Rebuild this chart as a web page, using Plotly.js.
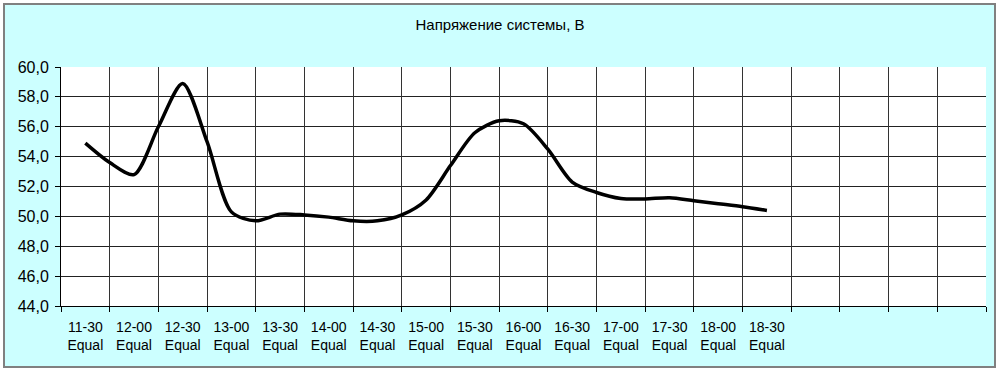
<!DOCTYPE html>
<html>
<head>
<meta charset="utf-8">
<script src="https://cdn.plot.ly/plotly-3.0.1.min.js"></script>
<style>
  html, body { margin: 0; padding: 0; background: #ffffff; width: 1000px; height: 372px; overflow: hidden; }
  #frame { position: absolute; left: 3px; top: 3px; width: 993px; height: 365px; box-sizing: border-box;
           border: 2px solid #808080; background: #ccffff; }
  #chart { position: absolute; left: 0; top: 0; width: 989px; height: 361px; }
</style>
</head>
<body>
<div id="frame"><div id="chart"></div></div>
<script>
// Time in hours (sampled every 15 min along the drawn curve)
const sampleTimes = [11.5, 11.75, 12.0, 12.25, 12.5, 12.75, 13.0, 13.25, 13.5, 13.75,
                     14.0, 14.25, 14.5, 14.75, 15.0, 15.25, 15.5, 15.75, 16.0, 16.25,
                     16.5, 16.75, 17.0, 17.25, 17.5, 17.75, 18.0, 18.25, 18.5];
// System voltage, V
const voltage = [54.9, 53.6, 52.8, 56.0, 58.9, 55.0, 50.3, 49.7, 50.15, 50.1,
                 49.95, 49.7, 49.7, 50.1, 51.1, 53.4, 55.6, 56.4, 56.2, 54.5,
                 52.3, 51.6, 51.2, 51.17, 51.25, 51.05, 50.85, 50.65, 50.4];

// Category tick labels
const labelTimes = [11.5, 12.0, 12.5, 13.0, 13.5, 14.0, 14.5, 15.0, 15.5, 16.0, 16.5, 17.0, 17.5, 18.0, 18.5];
const labelText = ['11-30', '12-00', '12-30', '13-00', '13-30', '14-00', '14-30', '15-00',
                   '15-30', '16-00', '16-30', '17-00', '17-30', '18-00', '18-30'];
const labelStatus = ['Equal', 'Equal', 'Equal', 'Equal', 'Equal', 'Equal', 'Equal', 'Equal',
                     'Equal', 'Equal', 'Equal', 'Equal', 'Equal', 'Equal', 'Equal'];

const titleText = 'Напряжение системы, В';

const xMin = 11.25, xMax = 20.75;   // 19 half-hour slots
const boundaries = [];
for (let v = xMin; v <= xMax + 1e-9; v += 0.5) boundaries.push(v);

const ticktext = labelText.map((t, i) => t + '<br>' + labelStatus[i]);
const font = 'Liberation Sans, Arial, sans-serif';

const trace = {
  x: sampleTimes, y: voltage, type: 'scatter', mode: 'lines',
  line: { color: '#000000', width: 3.5, shape: 'spline', smoothing: 0.8 },
  hoverinfo: 'x+y', xaxis: 'x', yaxis: 'y'
};
const dummy = {
  x: [xMin, xMax], y: [null, null], type: 'scatter', mode: 'lines',
  xaxis: 'x2', yaxis: 'y', showlegend: false, hoverinfo: 'skip'
};

const layout = {
  width: 989, height: 361,
  margin: { l: 56, r: 8, t: 62, b: 60, pad: 0 },
  paper_bgcolor: 'rgba(0,0,0,0)',
  plot_bgcolor: '#ffffff',
  separators: ', ',
  showlegend: false,
  font: { family: font, size: 14, color: '#000000' },
  title: { text: titleText, font: { family: font, size: 15, color: '#000000' },
           x: 0.5005, xref: 'container', xanchor: 'center',
           y: 0.944, yref: 'container', yanchor: 'middle' },
  xaxis: {
    type: 'linear', range: [xMin, xMax], tickmode: 'array',
    tickvals: labelTimes, ticktext: ticktext,
    ticks: '', showgrid: false, zeroline: false,
    showline: true, linecolor: '#000000', linewidth: 1,
    tickfont: { family: font, size: 14, color: '#000000' },
    ticklabelstandoff: 8
  },
  xaxis2: {
    type: 'linear', range: [xMin, xMax], overlaying: 'x', anchor: 'y', side: 'bottom',
    tickmode: 'array', tickvals: boundaries, showticklabels: false,
    ticks: 'outside', ticklen: 5, tickcolor: '#000000', tickwidth: 1,
    showgrid: true, gridcolor: '#333333', gridwidth: 1, zeroline: false,
    showline: false
  },
  yaxis: {
    range: [44, 60], tickmode: 'linear', tick0: 44, dtick: 2, tickformat: '.1f',
    ticks: 'outside', ticklen: 5, tickcolor: '#000000',
    showgrid: true, gridcolor: '#222222', gridwidth: 1, zeroline: false,
    showline: true, linecolor: '#000000', linewidth: 1, mirror: false,
    tickfont: { family: font, size: 16, color: '#000000' },
    ticklabelstandoff: 3
  }
};

Plotly.newPlot('chart', [dummy, trace], layout, { staticPlot: true, displayModeBar: false });
</script>
</body>
</html>
